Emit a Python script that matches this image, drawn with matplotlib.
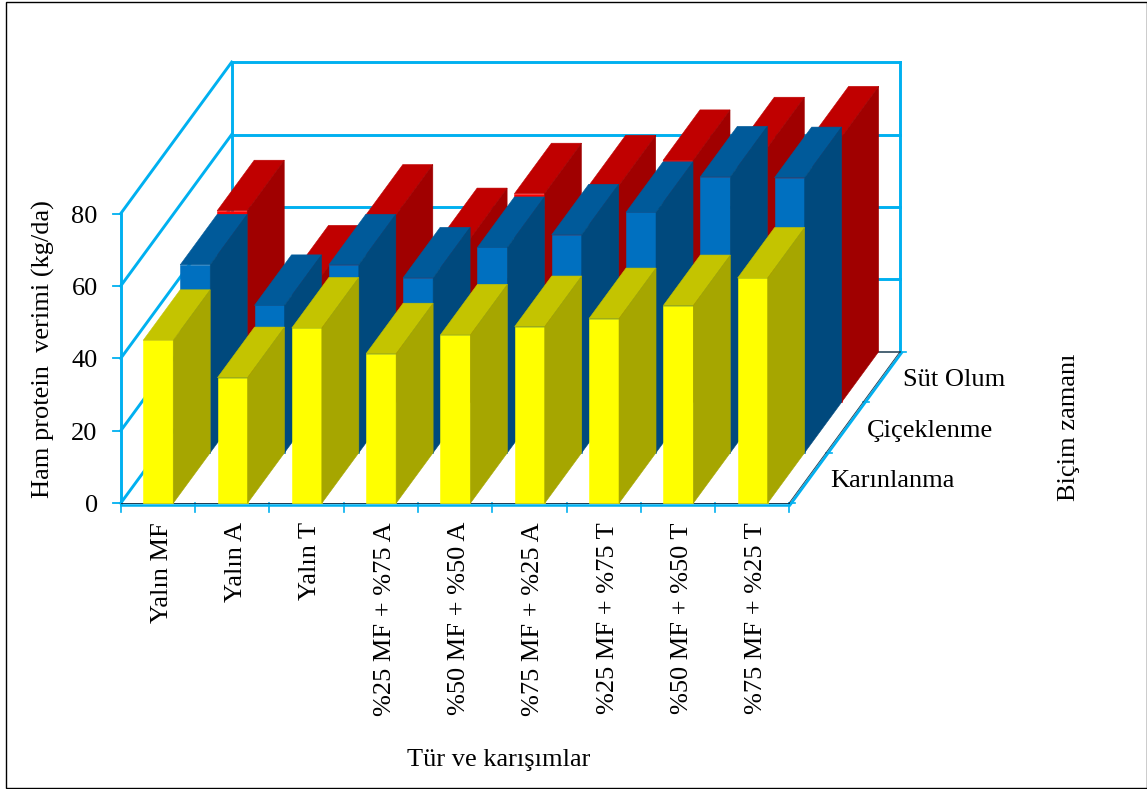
import matplotlib
matplotlib.use("Agg")
import matplotlib.pyplot as plt
from matplotlib.patches import Polygon, Rectangle

plt.rcParams['font.family'] = ['Liberation Serif', 'DejaVu Serif']

# Data: crude protein yield (kg/da) by mixture and cutting stage
categories = ["Yalın MF", "Yalın A", "Yalın T", "%25 MF + %75 A", "%50 MF + %50 A",
              "%75 MF + %25 A", "%25 MF + %75 T", "%50 MF + %50 T", "%75 MF + %25 T"]
stages = ["Karınlanma", "Çiçeklenme", "Süt Olum"]
karinlanma = [45.0, 34.7, 48.4, 41.3, 46.5, 48.8, 51.0, 54.6, 62.2]
ciceklenme = [51.9, 40.7, 51.9, 48.3, 56.7, 60.2, 66.4, 76.2, 76.0]
sut_olum = [52.9, 34.9, 51.7, 45.2, 57.6, 59.8, 66.8, 70.3, 73.3]
value_ticks = [0, 20, 40, 60, 80]

W, H = 1147, 789
fig = plt.figure(figsize=(W / 100, H / 100), dpi=100)
ax = fig.add_axes([0, 0, 1, 1])
ax.set_xlim(0, W)
ax.set_ylim(H, 0)
ax.axis("off")

# Oblique projection of (category, depth, value) onto the canvas
X0, Y0 = 120.7, 503.2
CAT_W = 74.3
DEPTH_DX, DEPTH_DY = 37.0, -50.5
UNIT = 3.62
BAR_W = 30.0 / CAT_W
BAR_SHIFT = 0.005


def proj(c, d, v):
    return (X0 + c * CAT_W + d * DEPTH_DX, Y0 + d * DEPTH_DY - v * UNIT)


GRID = "#00B0F0"
DARK = "#1A3A50"
LW = 2.1


def seg(p, q, color=GRID, lw=LW, z=1, dx=0.0, dy=0.0):
    ax.plot([p[0] + dx, q[0] + dx], [p[1] + dy, q[1] + dy], color=color, lw=lw,
            zorder=z, solid_capstyle="projecting")


n = len(categories)
nd = len(stages)
top_val = value_ticks[-1]

# Walls and gridlines
for v in value_ticks:
    seg(proj(0, 0, v), proj(0, nd, v))
    if v > 0:
        seg(proj(0, nd, v), proj(n, nd, v))
    left = proj(0, 0, v)
    seg((left[0] - 8, left[1]), left, lw=1.3)
    ax.text(left[0] - 23, left[1] + 3, str(v), ha="right", va="center", fontsize=19)
seg(proj(0, 0, 0), proj(0, 0, top_val))
seg(proj(0, nd, 0), proj(0, nd, top_val))
seg(proj(n, nd, 0), proj(n, nd, top_val))

# Floor edges: a cyan rim with a dark inner line
seg(proj(0, 0, 0), proj(n, 0, 0), lw=1.8, z=2, dy=1.5)
seg(proj(n, 0, 0), proj(n, nd, 0), lw=2.0, z=2, dx=1.2, dy=1.0)
seg(proj(0, 0, 0), proj(n, 0, 0), color=DARK, lw=0.7, z=2.5)
seg(proj(n, 0, 0), proj(n, nd, 0), color=DARK, lw=0.6, z=2.5, dx=-0.4)
seg(proj(0, nd, 0), proj(n, nd, 0), color=DARK, lw=1.1, z=2)
for c in range(n + 1):
    p = proj(c, 0, 0)
    seg(p, (p[0], p[1] + 9), lw=1.2)
for d in range(nd + 1):
    p = proj(n, d, 0)
    seg(p, (p[0] + 6, p[1]), lw=1.2)

# Bars, back row first so nearer rows cover them
palette = [
    ("#FFFF00", "#C4C400", "#A6A600"),
    ("#0070C0", "#005A9A", "#00497D"),
    ("#FF0000", "#C00000", "#A00000"),
]
rows = [karinlanma, ciceklenme, sut_olum]
for d in reversed(range(nd)):
    front, top, side = palette[d]
    for c, v in enumerate(rows[d]):
        l = c + (1 - BAR_W) / 2 + BAR_SHIFT
        r = l + BAR_W
        faces = [
            ([proj(l, d, 0), proj(r, d, 0), proj(r, d, v), proj(l, d, v)], front),
            ([proj(l, d, v), proj(r, d, v), proj(r, d + 1, v), proj(l, d + 1, v)], top),
            ([proj(r, d, 0), proj(r, d + 1, 0), proj(r, d + 1, v), proj(r, d, v)], side),
        ]
        for pts, col in faces:
            ax.add_patch(Polygon(pts, closed=True, facecolor=col, edgecolor=col,
                                 lw=0.4, zorder=3 + (nd - d)))

# Category labels
for c, name in enumerate(categories):
    x, _ = proj(c + 0.5, 0, 0)
    ax.text(x + 4, 522, name, rotation=90, ha="center", va="top", fontsize=19)

# Depth labels
for (name, xr, y) in zip(stages, [830, 867, 903], [481, 431, 380]):
    ax.text(xr, y, name, ha="left", va="center", fontsize=19)

# Axis titles
ax.text(43, 349, "Ham protein  verimi (kg/da)", rotation=90, ha="center", va="center", fontsize=19)
ax.text(499, 760, "Tür ve karışımlar", ha="center", va="center", fontsize=19)
ax.text(1069, 427, "Biçim zamanı", rotation=90, ha="center", va="center", fontsize=19)

# Outer frame
ax.add_patch(Rectangle((6, 2), 1140.5, 786, fill=False, edgecolor="black", lw=1.0, zorder=10))

fig.savefig("out.png", dpi=100)
